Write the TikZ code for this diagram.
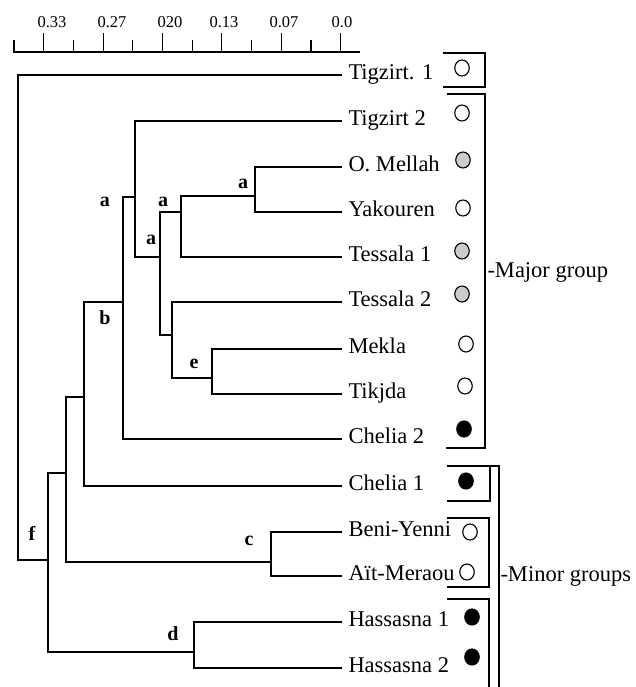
\documentclass[tikz,border=0pt]{standalone}
\usepackage{fontspec}
\setmainfont{Liberation Serif}
\usetikzlibrary{shapes.geometric,positioning}
\definecolor{dotgray}{gray}{0.8}

\begin{document}
\begin{tikzpicture}[x=0.4pt, y=-0.4pt,
                    tree line/.style={line width=0.8pt, line cap=rect},
                    leaf label/.style={anchor=west, inner xsep=2.8pt, inner ysep=0pt, text height=6.4pt, text depth=3.2pt, font=\fontsize{9}{11}\selectfont},
                    clade label/.style={inner sep=0pt, font=\fontsize{8}{10}\selectfont\bfseries},
                    site dot/.style={ellipse, draw, line width=0.45pt, minimum width=5.8pt, minimum height=6.4pt, inner sep=0pt},
                    group line/.style={line width=0.45pt},
                    group label/.style={anchor=base west, inner sep=0pt, font=\fontsize{9}{11}\selectfont},
                    scale label/.style={anchor=base, inner sep=0pt, font=\fontsize{6.6}{8}\selectfont}]

    \useasboundingbox (0,0) rectangle (635,687);

    % distance scale
    \draw [line width=0.9pt] (13,52) -- (360,52);
    \foreach \i in {0,...,11} {
        \pgfmathsetmacro{\ticktop}{ifthenelse(isodd(\i),33,40)}
        \draw [line width=0.45pt] ({14+29.7*\i},52) -- ({14+29.7*\i},\ticktop);
    }
    \foreach \x/\t [count=\k] in {52/0.33, 112/0.27, 170/020, 224/0.13, 284/0.07, 342/0.0}
        \node [scale label] (scale\k) at (\x,27) {\t};

    % populations
    \node [leaf label] (tig1) at (341,75)  {Tigzirt. 1};
    \node [leaf label] (tig2) at (341,121) {Tigzirt 2};
    \node [leaf label] (mel)  at (341,167) {O. Mellah};
    \node [leaf label] (yak)  at (341,212) {Yakouren};
    \node [leaf label] (tes1) at (341,257) {Tessala 1};
    \node [leaf label] (tes2) at (341,302) {Tessala 2};
    \node [leaf label] (mek)  at (341,349) {Mekla};
    \node [leaf label] (tik)  at (341,394) {Tikjda};
    \node [leaf label] (che2) at (341,439) {Chelia 2};
    \node [leaf label] (che1) at (341,486) {Chelia 1};
    \node [leaf label] (beni) at (341,532) {Beni-Yenni};
    \node [leaf label] (ait)  at (341,576) {Aït-Meraou};
    \node [leaf label] (has1) at (341,622) {Hassasna 1};
    \node [leaf label] (has2) at (341,668) {Hassasna 2};

    % inner nodes of the tree
    \coordinate (root) at (18,560);
    \coordinate (n48)  at (48,560);
    \coordinate (n66)  at (66,473);
    \coordinate (nc)   at (271,562);
    \coordinate (nd)   at (194,652);
    \coordinate (n84)  at (84,397);
    \coordinate (n123) at (123,302);
    \coordinate (n135) at (135,197);
    \coordinate (n160) at (160,257);
    \coordinate (n181) at (181,212);
    \coordinate (n255) at (255,196);
    \coordinate (n172) at (172,335);
    \coordinate (ne)   at (212,378);

    % branches
    \draw [tree line] (root) |- (tig1.west);
    \draw [tree line] (root) -- (n48);
    \draw [tree line] (n48) |- (n66);
    \draw [tree line] (n48) |- (nd);
    \draw [tree line] (nd) |- (has1.west);
    \draw [tree line] (nd) |- (has2.west);
    \draw [tree line] (n66) |- (n84);
    \draw [tree line] (n66) |- (nc);
    \draw [tree line] (nc) |- (beni.west);
    \draw [tree line] (nc) |- (ait.west);
    \draw [tree line] (n84) |- (n123);
    \draw [tree line] (n84) |- (che1.west);
    \draw [tree line] (n123) |- (n135);
    \draw [tree line] (n123) |- (che2.west);
    \draw [tree line] (n135) |- (tig2.west);
    \draw [tree line] (n135) |- (n160);
    \draw [tree line] (n160) |- (n181);
    \draw [tree line] (n160) |- (n172);
    \draw [tree line] (n181) |- (n255);
    \draw [tree line] (n181) |- (tes1.west);
    \draw [tree line] (n255) |- (mel.west);
    \draw [tree line] (n255) |- (yak.west);
    \draw [tree line] (n172) |- (tes2.west);
    \draw [tree line] (n172) |- (ne);
    \draw [tree line] (ne) |- (mek.west);
    \draw [tree line] (ne) |- (tik.west);

    % clade letters
    \node [clade label] (lf)  at (32,533)  {f};
    \node [clade label] (ld)  at (173,634) {d};
    \node [clade label] (lc)  at (249,541) {c};
    \node [clade label] (lb)  at (105,318) {b};
    \node [clade label] (la1) at (105,202) {a};
    \node [clade label] (la2) at (151,240) {a};
    \node [clade label] (la3) at (163,202) {a};
    \node [clade label] (la4) at (243,184) {a};
    \node [clade label] (le)  at (194,364) {e};

    % site symbols
    \node [site dot, fill=white]   (dtig1) at (462,68)  {};
    \node [site dot, fill=white]   (dtig2) at (462,113) {};
    \node [site dot, fill=dotgray] (dmel)  at (463,160) {};
    \node [site dot, fill=white]   (dyak)  at (463,208) {};
    \node [site dot, fill=dotgray] (dtes1) at (462,251) {};
    \node [site dot, fill=dotgray] (dtes2) at (462,294) {};
    \node [site dot, fill=white]   (dmek)  at (466,344) {};
    \node [site dot, fill=white]   (dtik)  at (465,386) {};
    \node [site dot, fill=black]   (dche2) at (464,429) {};
    \node [site dot, fill=black]   (dche1) at (466,481) {};
    \node [site dot, fill=white]   (dbeni) at (470,532) {};
    \node [site dot, fill=white]   (dait)  at (467,572) {};
    \node [site dot, fill=black]   (dhas1) at (472,617) {};
    \node [site dot, fill=black]   (dhas2) at (472,657) {};

    % group brackets
    \draw [group line] (443,53) -- (485,53) -- (485,87) -- (443,87);
    \draw [group line] (447,94) -- (485,94) -- (485,448) -- (446,448);
    \draw [group line] (447,466) -- (499,466) -- (499,687);
    \draw [group line] (490,466) -- (490,501) -- (447,501);
    \draw [group line] (447,518) -- (489,518) -- (489,587) -- (447,587);
    \draw [group line] (447,599) -- (489,599) -- (489,687);

    \node [group label] (major) at (487,277) {-Major group};
    \node [group label] (minor) at (500,581) {-Minor groups};

\end{tikzpicture}
\end{document}
